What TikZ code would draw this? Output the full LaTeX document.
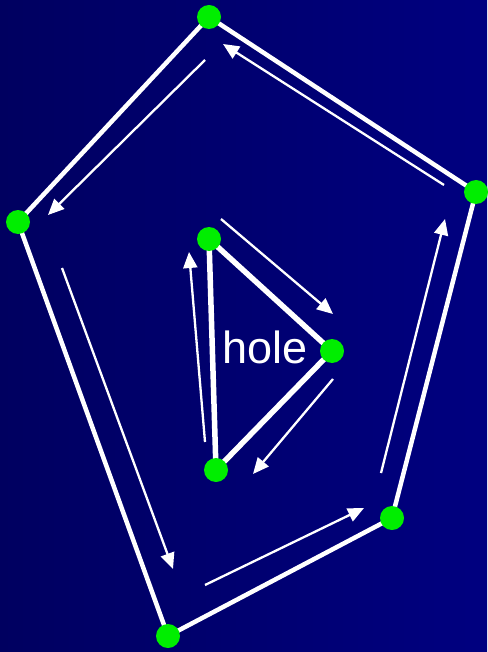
\documentclass[tikz,border=0pt]{standalone}
\usepackage{fontspec}
\setmainfont{Liberation Sans}
\usetikzlibrary{arrows.meta}
\definecolor{bgleft}{HTML}{000060}
\definecolor{bgright}{HTML}{000080}
\definecolor{dotgreen}{HTML}{00EE00}
\begin{document}
\begin{tikzpicture}[x=1pt,y=-1pt,
  edge/.style={white,line width=4.5pt},
  inedge/.style={white,line width=5.5pt},
  flow/.style={white,line width=2.3pt,-{Triangle[length=16pt,width=14pt]}},
  vert/.style={circle,fill=dotgreen,minimum size=24pt,inner sep=0pt}]
\shade[left color=bgleft,right color=bgright] (0,0) rectangle (487,652);
\useasboundingbox (0,0) rectangle (487,652);
% outer vertices
\coordinate (A) at (209,17);
\coordinate (B) at (18,222);
\coordinate (C) at (168,636);
\coordinate (D) at (392,518);
\coordinate (E) at (476,192);
% inner vertices
\coordinate (P) at (209,239);
\coordinate (Q) at (332,351);
\coordinate (R) at (216,470);
\draw[edge,line join=miter] (A) -- (B) -- (C) -- (D) -- (E) -- cycle;
\draw[inedge] (P) -- (Q) -- (R) -- cycle;
\node at (265,347) {\fontsize{45}{50}\selectfont\color{white}hole};
% outer flow arrows
\coordinate (a1) at (205,60);  \coordinate (a2) at (48,215);
\coordinate (b1) at (62,268);  \coordinate (b2) at (173,569);
\coordinate (c1) at (205,585); \coordinate (c2) at (364,508);
\coordinate (d1) at (381,473); \coordinate (d2) at (445,219);
\coordinate (e1) at (444,185); \coordinate (e2) at (223,44);
\draw[flow] (a1) -- (a2);
\draw[flow] (b1) -- (b2);
\draw[flow] (c1) -- (c2);
\draw[flow] (d1) -- (d2);
\draw[flow] (e1) -- (e2);
% inner flow arrows
\coordinate (f1) at (221,219); \coordinate (f2) at (333,314);
\coordinate (g1) at (333,379); \coordinate (g2) at (253,474);
\coordinate (h1) at (205,442); \coordinate (h2) at (189,252);
\draw[flow] (f1) -- (f2);
\draw[flow] (g1) -- (g2);
\draw[flow] (h1) -- (h2);
% vertex dots
\node[vert] (vA) at (A) {};
\node[vert] (vB) at (B) {};
\node[vert] (vC) at (C) {};
\node[vert] (vD) at (D) {};
\node[vert] (vE) at (E) {};
\node[vert] (vP) at (P) {};
\node[vert] (vQ) at (Q) {};
\node[vert] (vR) at (R) {};
\end{tikzpicture}
\end{document}
